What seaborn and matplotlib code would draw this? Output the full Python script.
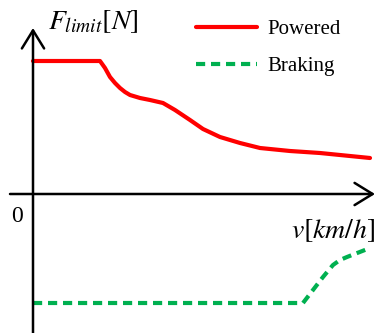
import matplotlib
matplotlib.use("Agg")
import matplotlib.pyplot as plt
import seaborn as sns
import pandas as pd

# speed (relative units from the v-axis origin) and force limits
powered_v = [0, 67, 72, 77, 82, 87, 92, 97, 107, 117, 130, 142, 157, 170, 187, 207, 227, 257, 287, 337]
powered_f = [133, 133, 126, 117, 111, 106, 102, 99, 96, 94, 91, 84, 74, 65, 57, 51, 46, 43, 41, 36]
braking_v = [0, 270, 280, 290, 300, 307, 314, 337]
braking_f = [-109, -109, -96, -83, -71, -66, -63, -54]
series_labels = ["Powered", "Braking"]

sns.set_theme(style="white")
plt.rcParams["font.family"] = ["Liberation Serif", "DejaVu Serif"]
plt.rcParams["mathtext.fontset"] = "stix"
plt.rcParams["text.color"] = "black"

df = pd.concat([
    pd.DataFrame({"v": powered_v, "F": powered_f, "series": series_labels[0]}),
    pd.DataFrame({"v": braking_v, "F": braking_f, "series": series_labels[1]}),
])

fig = plt.figure(figsize=(3.76, 3.33), dpi=100)
ax = fig.add_axes([0, 0, 1, 1])
ax.set_xlim(-33, 343)
ax.set_ylim(-139, 194)
ax.axis("off")

sns.lineplot(data=df, x="v", y="F", hue="series", style="series",
             palette={"Powered": "#ff0000", "Braking": "#00b050"},
             dashes={"Powered": "", "Braking": (2.2, 1.4)},
             linewidth=3, sort=False, estimator=None, ax=ax, legend=False)
for ln in ax.get_lines():
    ln.set_solid_joinstyle("round")
    ln.set_dash_joinstyle("round")

# axes with arrows
arrow = dict(arrowstyle="->,head_length=0.65,head_width=0.4", lw=1.8,
             color="black", mutation_scale=20, shrinkA=0, shrinkB=0)
ax.annotate("", xy=(342, 0), xytext=(-23, 0), arrowprops=arrow)
ax.annotate("", xy=(0, 166), xytext=(0, -139), arrowprops=arrow)

ax.text(15, 165, r"$F_{limit}[N]$", fontsize=20, ha="left", va="baseline", color="black")
ax.text(342, -44, r"$v[km/h]$", fontsize=20, ha="right", va="baseline", color="black")
ax.text(-16, -22, "0", fontsize=17, ha="center", va="center", color="black")

lines = ax.get_lines()
leg = ax.legend(handles=lines[:2], labels=series_labels, loc="upper left",
                bbox_to_anchor=(188 / 376, 1 - 11 / 333), frameon=False,
                fontsize=15, handlelength=2.9, handletextpad=0.5, labelspacing=0.85,
                borderaxespad=0)
for t in leg.get_texts():
    t.set_color("black")

fig.savefig("out.png", dpi=100)
